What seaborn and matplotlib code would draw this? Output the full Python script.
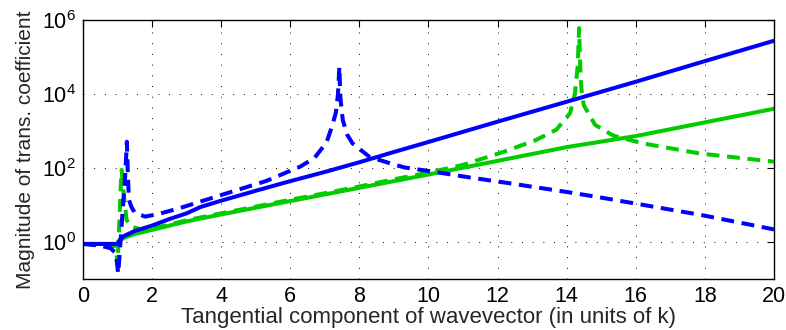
import numpy as np
import pandas as pd
import seaborn as sns
import matplotlib
matplotlib.use("Agg")
import matplotlib.pyplot as plt
from matplotlib.ticker import NullLocator

# values
blue_solid_x = [0, 1.0, 1.05, 1.1, 1.2, 1.5, 2, 2.5, 3, 3.4, 4, 5, 6, 7, 8, 9, 10, 12, 14, 16, 18, 20]
blue_solid_y = [0.89, 0.89, 1.1, 1.26, 1.48, 2.0, 2.8, 4.2, 6.0, 8.9, 13.2, 24.5, 44.7, 79, 145, 275, 513,
                1820, 6300, 21900, 79400, 282000]

green_solid_x = [0, 1.0, 1.05, 1.1, 1.2, 1.5, 2, 3, 4, 5, 6, 7, 8, 9, 10, 12, 14, 16, 18, 20]
green_solid_y = [0.89, 0.89, 1.05, 1.17, 1.32, 1.66, 2.14, 3.63, 5.62, 8.5, 12.9, 19.5, 29.5, 44.7, 67.6,
                 158, 372, 741, 1740, 4070]

blue_dash_x = [0, 0.5, 0.8, 0.95, 1.02, 1.1, 1.17, 1.22, 1.27, 1.3, 1.33, 1.4, 1.5, 1.8, 2.2, 2.8, 3.4,
               4.3, 5.3, 6.3, 6.7, 7.05, 7.2, 7.32, 7.38, 7.42, 7.45, 7.52, 7.65, 7.8, 8.3, 8.9, 9.3,
               10.2, 11.2, 12.2, 14.1, 15, 17.9, 20]
blue_dash_y = [0.89, 0.8, 0.68, 0.5, 0.14, 1.6, 14, 60, 520, 60, 14, 9, 6.2, 4.9, 5.8, 8.3, 12.5,
               23, 45, 112, 190, 500, 1300, 3200, 10000, 56000, 8000, 2000, 800, 470, 200, 135, 105,
               79, 56, 41, 22, 16, 5.4, 2.2]

green_dash_x = [0, 0.5, 0.9, 0.98, 1.0, 1.05, 1.09, 1.12, 1.16, 1.2, 1.26, 1.4, 1.7, 2, 3, 4, 5, 6, 7,
                8, 9, 10, 11, 12.2, 13.1, 13.7, 14.1, 14.24, 14.32, 14.36, 14.4, 14.45, 14.5, 14.82,
                15.35, 16.2, 17.86, 20]
green_dash_y = [0.89, 0.85, 0.8, 0.4, 0.25, 3, 30, 90, 30, 14, 4, 2.6, 2.2, 2.3, 3.9, 6.0, 9.1, 14, 21,
                32, 50, 76, 123, 282, 575, 1100, 3100, 10700, 60000, 620000, 30000, 8000, 5000, 1500,
                760, 470, 250, 150]

blue = "#0000ff"
green = "#00cc00"

sns.set_style("white")
plt.rcParams["font.family"] = ["Liberation Sans", "DejaVu Sans"]
plt.rcParams["mathtext.default"] = "regular"

fig = plt.figure(figsize=(7.86, 3.30), dpi=100)
ax = fig.add_axes([0.1056, 0.1545, 0.8791, 0.7835])

lw = 2.9
curves = [
    (green_solid_x, green_solid_y, green, False),
    (green_dash_x, green_dash_y, green, True),
    (blue_solid_x, blue_solid_y, blue, False),
    (blue_dash_x, blue_dash_y, blue, True),
]
for xs, ys, col, dashed in curves:
    df = pd.DataFrame({"k": xs, "T": ys})
    sns.lineplot(data=df, x="k", y="T", ax=ax, color=col, lw=lw,
                 estimator=None, sort=False)
    if dashed:
        ax.lines[-1].set_dashes([3.2, 1.9])

ax.set_yscale("log")
ax.set_xlim(0, 20)
ax.set_ylim(0.1, 1e6)
ax.set_xticks(range(0, 21, 2))
ax.set_yticks([1, 1e2, 1e4, 1e6])
ax.yaxis.set_minor_locator(NullLocator())
ax.xaxis.set_minor_locator(NullLocator())

ax.grid(True, which="major", color="k", linestyle=(0, (1, 10)), linewidth=0.7)
ax.tick_params(direction="in", top=True, right=True, length=5, width=0.8,
               labelsize=15.5, colors="k", pad=5)
for s in ax.spines.values():
    s.set_visible(True)
    s.set_color("k")
    s.set_linewidth(1.0)

ax.set_xlabel("Tangential component of wavevector (in units of k)", fontsize=16, labelpad=0)
ax.set_ylabel("Magnitude of trans. coefficient", fontsize=15, labelpad=5)

fig.savefig("out.png", dpi=100)
